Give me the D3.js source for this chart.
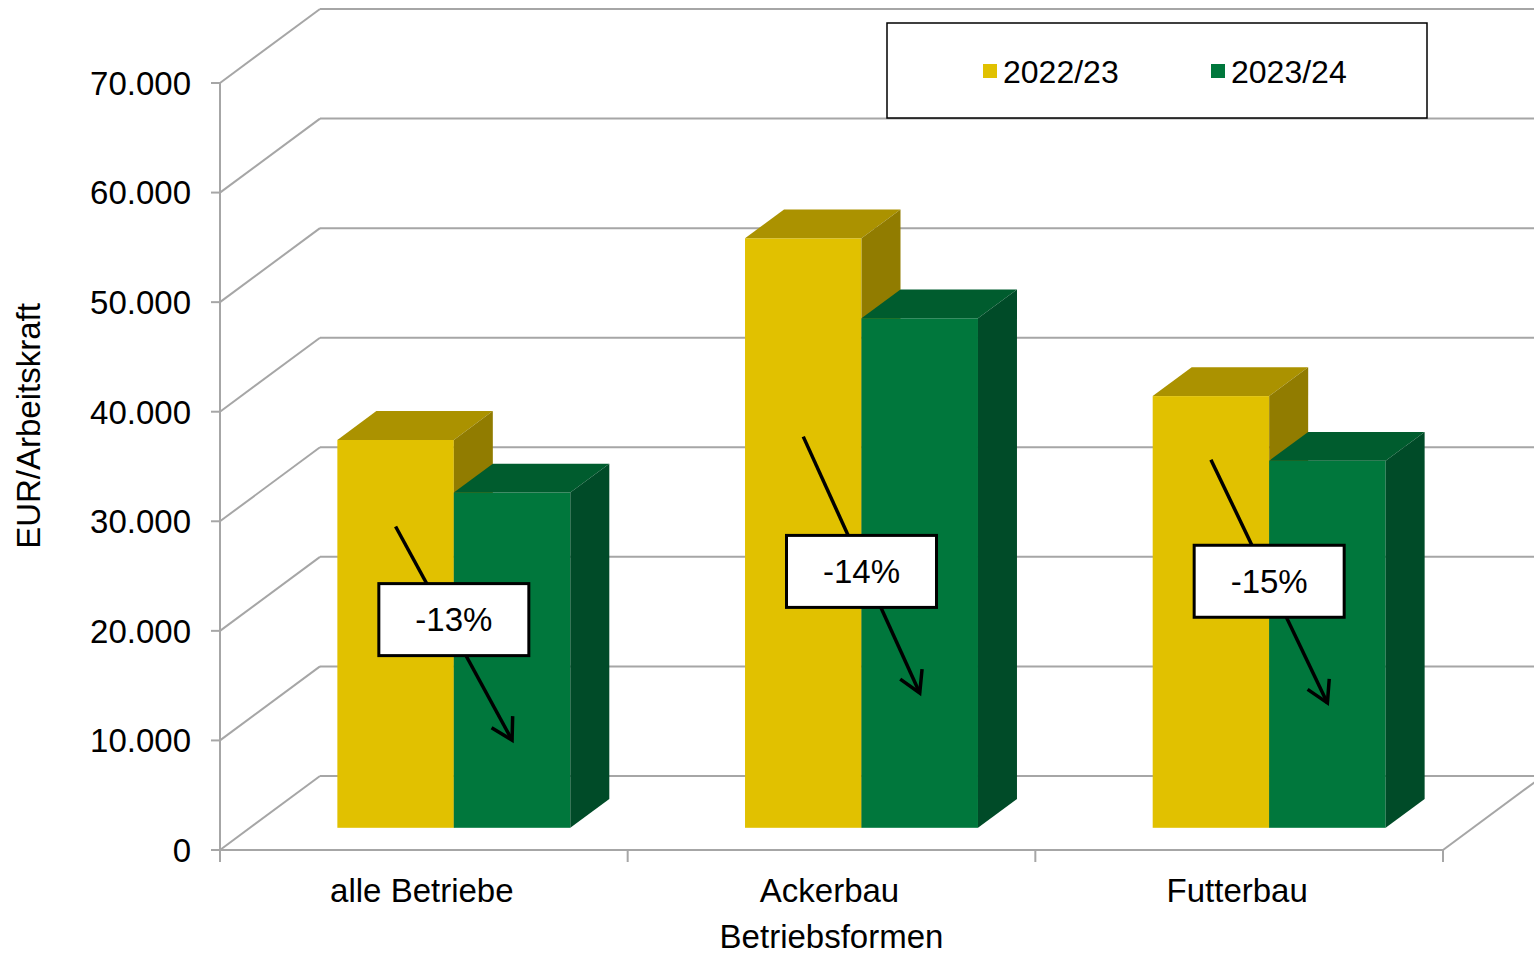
<!DOCTYPE html>
<html>
<head>
<meta charset="utf-8">
<script src="https://cdn.jsdelivr.net/npm/d3@7"></script>
<style>
  html, body { margin: 0; padding: 0; background: #fff; }
  svg { display: block; font-family: "Liberation Sans", Arial, sans-serif; }
</style>
</head>
<body>
<svg id="chart" width="1534" height="954"></svg>
<script>
const categories = ["alle Betriebe", "Ackerbau", "Futterbau"];
const series = ["2022/23", "2023/24"];
const values2022 = [35400, 53800, 39400];
const values2023 = [30600, 46500, 33500];
const changeLabels = ["-13%", "-14%", "-15%"];
// arrow start (on yellow bar) and end (on green bar), and label height, in EUR
const arrowFrom = [27500, 35700, 33600];
const arrowTo = [8000, 12300, 11400];
const labelAt = [19000, 23400, 22500];
const yTicks = [0, 10000, 20000, 30000, 40000, 50000, 60000, 70000];

const plotLeft = 220, plotRight = 1443, plotBottom = 850, plotTop = 83;
const wallDX = 100, wallDY = -74;   // depth of the 3D floor
const barD0 = 0.3, barD1 = 0.69;    // bar depth (fraction of floor depth)

const colors = {
  "2022/23": { front: "#e1c100", top: "#ab9200", side: "#917c00" },
  "2023/24": { front: "#00773c", top: "#005c2e", side: "#004b28" }
};
const gridColor = "#a6a6a6";

const de = d3.formatLocale({ decimal: ",", thousands: ".", grouping: [3], currency: ["", "€"] });
const fmt = de.format(",d");

const svg = d3.select("#chart");

const y = d3.scaleLinear().domain([0, 70000]).range([plotBottom, plotTop]);
const x0 = d3.scaleBand().domain(categories).range([plotLeft, plotRight]);
const x1 = d3.scaleBand().domain(series).range([0, x0.bandwidth()]).paddingOuter(0.75);

// Back wall gridlines
svg.append("g").selectAll("line")
  .data(yTicks)
  .join("line")
  .attr("x1", plotLeft + wallDX)
  .attr("x2", plotRight + wallDX)
  .attr("y1", d => y(d) + wallDY)
  .attr("y2", d => y(d) + wallDY)
  .attr("stroke", gridColor)
  .attr("stroke-width", 2);

// Side wall diagonals
svg.append("g").selectAll("line")
  .data(yTicks)
  .join("line")
  .attr("x1", plotLeft)
  .attr("x2", plotLeft + wallDX)
  .attr("y1", d => y(d))
  .attr("y2", d => y(d) + wallDY)
  .attr("stroke", gridColor)
  .attr("stroke-width", 2);

// Floor right edge
svg.append("line")
  .attr("x1", plotRight).attr("y1", y(0))
  .attr("x2", plotRight + wallDX).attr("y2", y(0) + wallDY)
  .attr("stroke", gridColor).attr("stroke-width", 2);

// Bars
const bars = [];
categories.forEach((c, i) => {
  bars.push({ cat: c, ser: series[0], value: values2022[i] });
  bars.push({ cat: c, ser: series[1], value: values2023[i] });
});

const fx = barD0 * wallDX, fy = barD0 * wallDY;
const dx = (barD1 - barD0) * wallDX, dy = (barD1 - barD0) * wallDY;

const barG = svg.append("g").selectAll("g")
  .data(bars)
  .join("g");

barG.each(function(d) {
  const g = d3.select(this);
  const xa = x0(d.cat) + x1(d.ser) + fx;
  const xb = xa + x1.bandwidth();
  const yt = y(d.value) + fy;
  const yb = y(0) + fy;
  const col = colors[d.ser];
  g.append("rect")
    .attr("x", xa).attr("y", yt)
    .attr("width", xb - xa).attr("height", yb - yt)
    .attr("fill", col.front);
  g.append("polygon")
    .attr("points", [[xa, yt], [xa + dx, yt + dy], [xb + dx, yt + dy], [xb, yt]].join(" "))
    .attr("fill", col.top);
  g.append("polygon")
    .attr("points", [[xb, yt], [xb + dx, yt + dy], [xb + dx, yb + dy], [xb, yb]].join(" "))
    .attr("fill", col.side);
});

// Y axis
const yAxis = svg.append("g");
yAxis.append("line")
  .attr("x1", plotLeft).attr("x2", plotLeft)
  .attr("y1", y(70000)).attr("y2", plotBottom + 12)
  .attr("stroke", gridColor).attr("stroke-width", 2);
yAxis.selectAll(".tick")
  .data(yTicks)
  .join("line")
  .attr("x1", plotLeft - 9).attr("x2", plotLeft)
  .attr("y1", d => y(d)).attr("y2", d => y(d))
  .attr("stroke", gridColor).attr("stroke-width", 2);
yAxis.selectAll("text")
  .data(yTicks)
  .join("text")
  .attr("x", 191)
  .attr("y", d => y(d))
  .attr("dy", "0.36em")
  .attr("text-anchor", "end")
  .attr("font-size", 33)
  .attr("fill", "#000")
  .text(d => fmt(d));

// X axis
const xAxis = svg.append("g");
xAxis.append("line")
  .attr("x1", plotLeft).attr("x2", plotRight)
  .attr("y1", plotBottom).attr("y2", plotBottom)
  .attr("stroke", gridColor).attr("stroke-width", 2);
xAxis.selectAll(".tick")
  .data(categories)
  .join("line")
  .attr("x1", d => x0(d) + x0.bandwidth())
  .attr("x2", d => x0(d) + x0.bandwidth())
  .attr("y1", plotBottom).attr("y2", plotBottom + 12)
  .attr("stroke", gridColor).attr("stroke-width", 2);
xAxis.selectAll("text")
  .data(categories)
  .join("text")
  .attr("x", d => x0(d) + x0.bandwidth() / 2 - 2)
  .attr("y", 890)
  .attr("dy", "0.36em")
  .attr("text-anchor", "middle")
  .attr("font-size", 33)
  .attr("fill", "#000")
  .text(d => d);

// Axis titles
svg.append("text")
  .attr("x", (plotLeft + plotRight) / 2)
  .attr("y", 936)
  .attr("dy", "0.36em")
  .attr("text-anchor", "middle")
  .attr("font-size", 33)
  .text("Betriebsformen");

svg.append("text")
  .attr("transform", "translate(28,426) rotate(-90)")
  .attr("dy", "0.36em")
  .attr("text-anchor", "middle")
  .attr("font-size", 33)
  .text("EUR/Arbeitskraft");

// Change arrows with labels
const arrowLen = 24, arrowAng = Math.PI / 6;
categories.forEach((c, i) => {
  const xs = x0(c) + x1(series[0]) + x1.bandwidth() / 2 + fx;
  const xe = x0(c) + x1(series[1]) + x1.bandwidth() / 2 + fx;
  const ys = y(arrowFrom[i]) + fy;
  const ye = y(arrowTo[i]) + fy;
  const g = svg.append("g");
  g.append("line")
    .attr("x1", xs).attr("y1", ys).attr("x2", xe).attr("y2", ye)
    .attr("stroke", "#000").attr("stroke-width", 3.5);
  const ang = Math.atan2(ye - ys, xe - xs);
  const head = [
    [xe - arrowLen * Math.cos(ang - arrowAng), ye - arrowLen * Math.sin(ang - arrowAng)],
    [xe, ye],
    [xe - arrowLen * Math.cos(ang + arrowAng), ye - arrowLen * Math.sin(ang + arrowAng)]
  ];
  g.append("path")
    .attr("d", d3.line()(head))
    .attr("fill", "none")
    .attr("stroke", "#000").attr("stroke-width", 3.5)
    .attr("stroke-linejoin", "miter");
  const cx = (xs + xe) / 2, cy = y(labelAt[i]) + fy;
  const bw = 150, bh = 72;
  g.append("rect")
    .attr("x", cx - bw / 2).attr("y", cy - bh / 2)
    .attr("width", bw).attr("height", bh)
    .attr("fill", "#fff")
    .attr("stroke", "#000").attr("stroke-width", 3);
  g.append("text")
    .attr("x", cx).attr("y", cy)
    .attr("dy", "0.36em")
    .attr("text-anchor", "middle")
    .attr("font-size", 33)
    .text(changeLabels[i]);
});

// Legend
const legend = svg.append("g");
legend.append("rect")
  .attr("x", 887).attr("y", 23)
  .attr("width", 540).attr("height", 95)
  .attr("fill", "#fff")
  .attr("stroke", "#000").attr("stroke-width", 1.5);
const legItems = legend.selectAll("g")
  .data(series)
  .join("g")
  .attr("transform", (d, i) => `translate(${983 + i * 228}, 71)`);
legItems.append("rect")
  .attr("x", 0).attr("y", -7)
  .attr("width", 14).attr("height", 14)
  .attr("fill", d => colors[d].front);
legItems.append("text")
  .attr("x", 20).attr("y", 0)
  .attr("dy", "0.36em")
  .attr("font-size", 32)
  .text(d => d);
</script>
</body>
</html>
